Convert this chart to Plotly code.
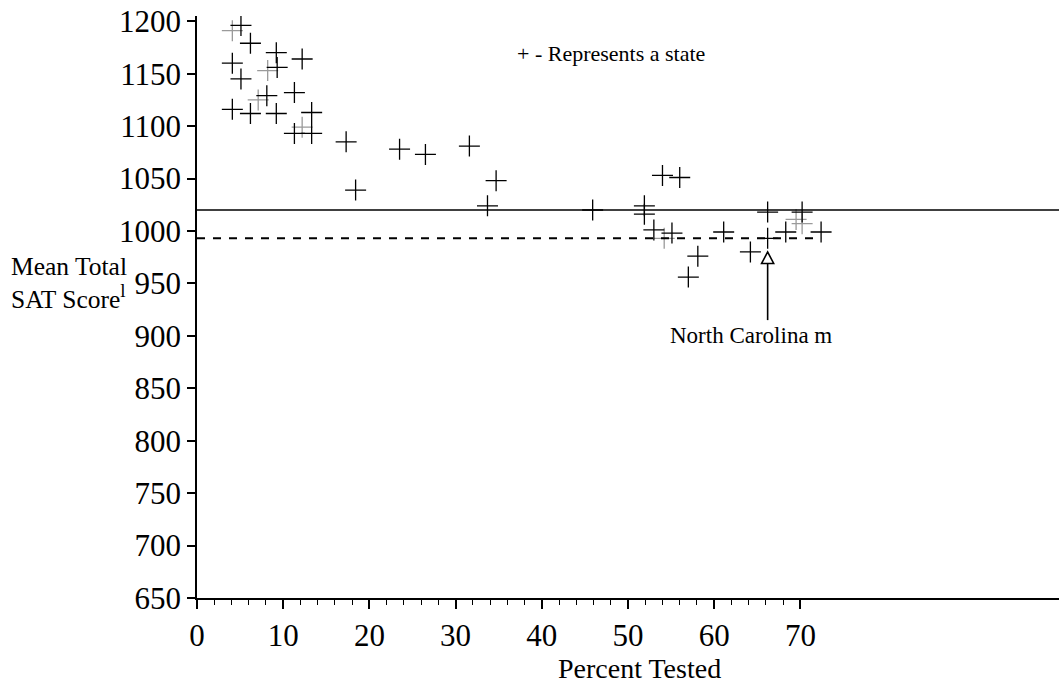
import plotly.graph_objects as go

# ---- data ----
states_x = [5.1, 6.2, 9.2, 12.2, 4.1, 9.3, 5.1, 8.1, 11.3, 4.1, 6.2, 9.2, 13.3,
            11.3, 13.3, 17.3, 23.5, 26.5, 31.6, 34.7, 18.4, 33.7,
            54.0, 56.0, 45.9, 51.9, 51.9, 53.0, 55.1, 61.1, 58.1, 57.0,
            66.2, 64.2, 70.2, 68.3, 72.4]
states_y = [1196, 1179, 1170, 1164, 1160, 1156, 1145, 1129, 1132, 1116, 1112, 1112, 1113,
            1093, 1093, 1085, 1078, 1073, 1081, 1048, 1039, 1024,
            1053, 1051, 1020, 1024, 1016, 1001, 998, 999, 976, 956,
            1018, 980, 1018, 999, 999]
# lighter (overlapping) state marks
faint_x = [4.1, 8.2, 7.1, 12.2, 54.2, 69.5, 70.2]
faint_y = [1191, 1153, 1125, 1099, 993, 1011, 1007]

nc_x, nc_y = 66.2, 993        # North Carolina
national_mean = 1020          # solid line
nc_mean = 993                 # dashed line

x_ticks = [0, 10, 20, 30, 40, 50, 60, 70]
x_minor = [v for v in range(2, 70, 2) if v % 10 != 0]
y_ticks = [650, 700, 750, 800, 850, 900, 950, 1000, 1050, 1100, 1150, 1200]

FONT = "Liberation Serif"

fig = go.Figure()

fig.add_trace(go.Scatter(
    x=faint_x, y=faint_y, mode="markers",
    marker=dict(symbol="cross-thin", size=15, line=dict(width=1.3, color="#9a9a9a")),
    hoverinfo="skip", showlegend=False))
fig.add_trace(go.Scatter(
    x=states_x + [nc_x], y=states_y + [nc_y], mode="markers",
    marker=dict(symbol="cross-thin", size=15, line=dict(width=1.3, color="black")),
    showlegend=False))

# reference lines
fig.add_shape(type="line", xref="paper", yref="y", x0=0, x1=1,
              y0=national_mean, y1=national_mean, line=dict(color="black", width=1.6))
fig.add_shape(type="line", xref="x", yref="y", x0=0, x1=max(states_x),
              y0=nc_mean, y1=nc_mean, line=dict(color="black", width=2, dash="8px,8px"))

# arrow pointing to North Carolina (open triangle head)
tip_y = nc_y - 13
base_y = nc_y - 24
tail_y = nc_y - 78
hw = 0.7
fig.add_shape(type="line", xref="x", yref="y", x0=nc_x, x1=nc_x, y0=tail_y, y1=base_y,
              line=dict(color="black", width=1.6))
fig.add_shape(type="path", xref="x", yref="y",
              path=f"M {nc_x - hw} {base_y} L {nc_x} {tip_y} L {nc_x + hw} {base_y} Z",
              fillcolor="white", line=dict(color="black", width=1.6))

fig.add_annotation(x=64.3, y=900, xref="x", yref="y", text="North Carolina m",
                   showarrow=False, font=dict(family=FONT, size=23, color="black"),
                   xanchor="center", yanchor="middle")
fig.add_annotation(x=36.9, y=1169, xref="x", yref="y", text="+ - Represents a state",
                   showarrow=False, font=dict(family=FONT, size=22, color="black"),
                   xanchor="left", yanchor="middle")
fig.add_annotation(x=-0.2181, y=950, xref="paper", yref="y",
                   text="Mean Total<br>SAT Score<sup><span style='font-size:19px'>l</span></sup>",
                   align="left",
                   showarrow=False, font=dict(family=FONT, size=25.5, color="black"),
                   xanchor="left", yanchor="middle")
fig.add_annotation(x=51.3, y=-0.121, xref="x", yref="paper", text="Percent Tested",
                   showarrow=False, font=dict(family=FONT, size=28, color="black"),
                   xanchor="center", yanchor="middle")

fig.update_layout(
    width=1063, height=683,
    margin=dict(l=197, r=4, t=15.5, b=84.7),
    paper_bgcolor="white", plot_bgcolor="white",
    font=dict(family=FONT, color="black"),
    showlegend=False,
    xaxis=dict(range=[0, 100], tickmode="array", tickvals=x_ticks,
               ticktext=[str(v) for v in x_ticks],
               showgrid=False, zeroline=False, showline=True, linecolor="black",
               linewidth=1.5, ticks="outside", ticklen=9, tickwidth=1.5, tickcolor="black",
               tickfont=dict(family=FONT, size=31, color="black"),
               minor=dict(tickmode="array", tickvals=x_minor, ticks="outside",
                          ticklen=5, tickwidth=1.3, tickcolor="black", showgrid=False)),
    yaxis=dict(range=[650, 1205], tickmode="array", tickvals=y_ticks,
               showgrid=False, zeroline=False, showline=True, linecolor="black",
               linewidth=1.5, ticks="outside", ticklen=8, tickwidth=1.5, tickcolor="black",
               tickfont=dict(family=FONT, size=31, color="black")),
)

fig.write_html("out.html")
